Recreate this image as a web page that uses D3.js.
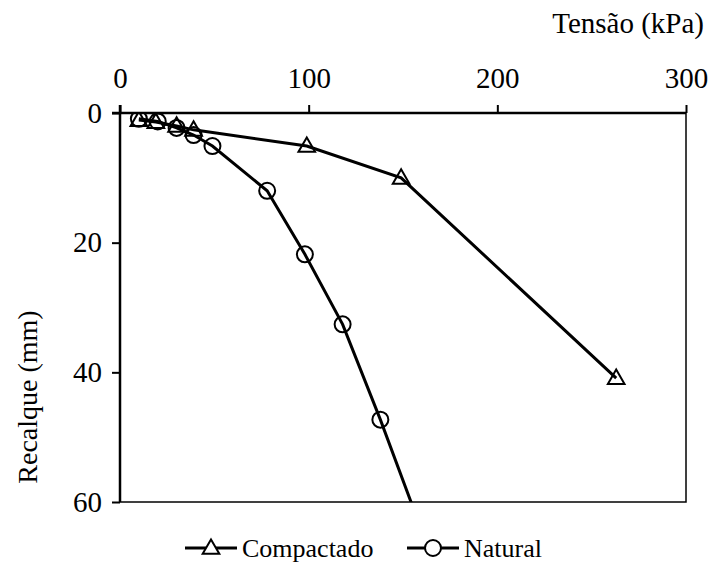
<!DOCTYPE html>
<html>
<head>
<meta charset="utf-8">
<script src="https://cdn.jsdelivr.net/npm/d3@7"></script>
<style>
  body { margin: 0; background: #fff; }
  svg text { font-family: 'Liberation Serif' !important; }
</style>
</head>
<body>
<div id="chart"></div>
<script>
// tensão (kPa) x recalque (mm)
const compactadoX = [10, 19, 30, 39, 99, 149, 263];
const compactadoY = [1.1, 1.4, 2.0, 2.6, 5.1, 10.0, 40.9];
const naturalX = [10, 20, 30, 39, 49, 78, 98, 118, 138, 160];
const naturalY = [0.9, 1.3, 2.3, 3.4, 5.1, 12.0, 21.8, 32.6, 47.3, 64.5];
const xTicks = [0, 100, 200, 300];
const yTicks = [0, 20, 40, 60];
const seriesNames = ['Compactado', 'Natural'];

const W = 713, H = 572;
const margin = { top: 113, left: 120, right: 27, bottom: 70 };
const innerW = W - margin.left - margin.right;
const innerH = H - margin.top - margin.bottom;
const serif = "'Liberation Serif'";

const svg = d3.select('#chart').append('svg')
  .attr('width', W)
  .attr('height', H);

const x = d3.scaleLinear().domain([0, 300]).range([0, innerW]);
const y = d3.scaleLinear().domain([0, 60]).range([0, innerH]);

const g = svg.append('g')
  .attr('transform', 'translate(' + margin.left + ',' + margin.top + ')');

svg.append('defs').append('clipPath').attr('id', 'plotClip')
  .append('rect').attr('x', 0).attr('y', 0).attr('width', innerW).attr('height', innerH);

// box (right and bottom edges)
g.append('rect')
  .attr('x', 0).attr('y', 0)
  .attr('width', innerW).attr('height', innerH)
  .attr('fill', 'none')
  .attr('stroke', '#000')
  .attr('stroke-width', 1.5);

const xAxis = d3.axisTop(x).tickValues(xTicks).tickSize(8).tickPadding(17);
const yAxis = d3.axisLeft(y).tickValues(yTicks).tickSize(8).tickPadding(10);

g.append('g').attr('class', 'axis').call(xAxis);
g.append('g').attr('class', 'axis').call(yAxis);

g.selectAll('.axis')
  .attr('font-family', null)
  .attr('font-size', null);
g.selectAll('.axis line')
  .attr('stroke', '#000')
  .attr('stroke-width', 2);
g.selectAll('.axis text')
  .style('font-family', serif, 'important')
  .style('font-size', '29px')
  .attr('fill', '#000');
// plain axis lines, no end caps
g.selectAll('.axis .domain').remove();
g.append('line').attr('x1', -8).attr('x2', innerW).attr('y1', 0).attr('y2', 0)
  .attr('stroke', '#000').attr('stroke-width', 2.5);
g.append('line').attr('x1', 0).attr('x2', 0).attr('y1', -8).attr('y2', innerH)
  .attr('stroke', '#000').attr('stroke-width', 2.5);

const line = d3.line().x(d => x(d[0])).y(d => y(d[1]));

const compactado = compactadoX.map((v, i) => [v, compactadoY[i]]);
const natural = naturalX.map((v, i) => [v, naturalY[i]]);

const plot = g.append('g').attr('clip-path', 'url(#plotClip)');

plot.append('path').datum(compactado)
  .attr('d', line).attr('fill', 'none').attr('stroke', '#000').attr('stroke-width', 3);
plot.append('path').datum(natural)
  .attr('d', line).attr('fill', 'none').attr('stroke', '#000').attr('stroke-width', 3);

const tri = d3.symbol().type(d3.symbolTriangle).size(120);

plot.selectAll('.tri').data(compactado).enter().append('path')
  .attr('class', 'tri')
  .attr('d', tri)
  .attr('transform', d => 'translate(' + x(d[0]) + ',' + (y(d[1]) + 1) + ')')
  .attr('fill', 'none')
  .attr('stroke', '#000').attr('stroke-width', 2);

plot.selectAll('.circ').data(natural).enter().append('circle')
  .attr('class', 'circ')
  .attr('cx', d => x(d[0])).attr('cy', d => y(d[1]))
  .attr('r', 8)
  .attr('fill', 'none')
  .attr('stroke', '#000').attr('stroke-width', 2);

// axis title (x)
svg.append('text')
  .attr('x', 704).attr('y', 33)
  .attr('text-anchor', 'end')
  .style('font-family', serif, 'important')
  .style('font-size', '29px')
  .text('Tensão (kPa)');

// axis title (y)
svg.append('text')
  .attr('transform', 'translate(37,397) rotate(-90)')
  .attr('text-anchor', 'middle')
  .style('font-family', serif, 'important')
  .style('font-size', '28px')
  .text('Recalque (mm)');

// legend
const legend = svg.append('g').attr('transform', 'translate(0,548)');
const legendX = [185, 407];
seriesNames.forEach((name, i) => {
  const lg = legend.append('g').attr('transform', 'translate(' + legendX[i] + ',0)');
  lg.append('line').attr('x1', 0).attr('x2', 52).attr('y1', 0).attr('y2', 0)
    .attr('stroke', '#000').attr('stroke-width', 3);
  if (i === 0) {
    lg.append('path').attr('d', tri).attr('transform', 'translate(26,1)')
      .attr('fill', '#fff').attr('stroke', '#000').attr('stroke-width', 2);
  } else {
    lg.append('circle').attr('cx', 26).attr('cy', 0).attr('r', 8)
      .attr('fill', '#fff').attr('stroke', '#000').attr('stroke-width', 2);
  }
  lg.append('text').attr('x', 57).attr('y', 9)
    .style('font-family', serif, 'important')
    .style('font-size', '26px')
    .text(name);
});
</script>
</body>
</html>
